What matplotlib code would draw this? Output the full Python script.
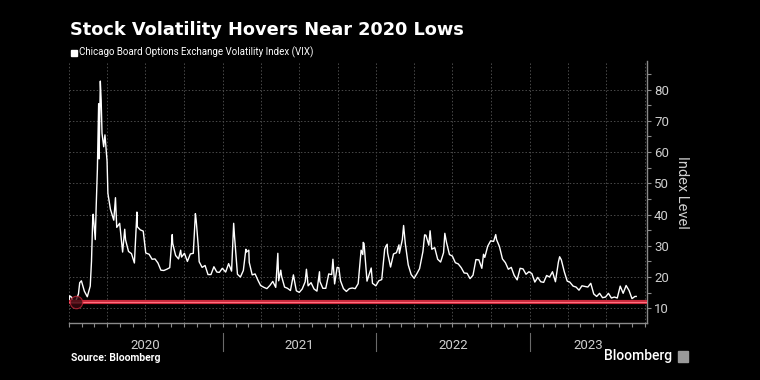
import matplotlib
matplotlib.use("Agg")
import matplotlib.pyplot as plt
import matplotlib.dates as mdates
import matplotlib.transforms as mtrans
import matplotlib.patches as mpatches
import pandas as pd

# ── Data: VIX, approx. weekly closes plus spike days ──────────────────────────
D2020 = ["01-02", "01-03", "01-08", "01-10", "01-17", "01-24", "01-27", "01-31",
         "02-07", "02-14", "02-21", "02-24", "02-27", "02-28", "03-04", "03-06",
         "03-09", "03-12", "03-13", "03-16", "03-18", "03-20", "03-24", "03-27",
         "04-01", "04-03", "04-09", "04-17", "04-21", "04-24", "05-01", "05-08",
         "05-13", "05-15", "05-22", "05-29", "06-05", "06-11", "06-12", "06-19",
         "06-26", "07-02", "07-10", "07-17", "07-24", "07-31", "08-07", "08-14",
         "08-21", "08-28", "09-03", "09-04", "09-11", "09-18", "09-23", "09-25",
         "10-02", "10-09", "10-16", "10-23", "10-28", "10-30", "11-04", "11-06",
         "11-13", "11-20", "11-27", "12-04", "12-11", "12-18", "12-24", "12-31"]
V2020 = [12.5, 14.0, 13.5, 12.6, 12.1, 14.6, 18.2, 18.8,
         15.5, 13.7, 17.1, 25.0, 39.2, 40.1, 32.0, 41.9,
         54.5, 75.5, 57.8, 82.7, 76.5, 66.0, 61.7, 65.5,
         57.1, 46.8, 41.7, 38.2, 45.4, 35.9, 37.2, 28.0,
         35.3, 31.9, 28.2, 27.5, 24.5, 40.8, 36.1, 35.1,
         34.7, 27.7, 27.3, 25.7, 25.8, 24.5, 22.2, 22.1,
         22.5, 23.0, 33.6, 30.8, 26.9, 25.8, 28.6, 26.4,
         27.6, 25.0, 27.4, 27.6, 40.3, 38.0, 29.6, 24.9,
         23.1, 23.7, 20.8, 20.8, 23.3, 21.6, 21.5, 22.8]

D2021 = ["01-08", "01-15", "01-22", "01-27", "01-29", "02-05", "02-12", "02-19",
         "02-25", "02-26", "03-04", "03-05", "03-12", "03-19", "03-26", "04-01",
         "04-09", "04-16", "04-23", "04-30", "05-07", "05-12", "05-14", "05-19",
         "05-21", "05-28", "06-04", "06-11", "06-18", "06-25", "07-02", "07-09",
         "07-16", "07-19", "07-23", "07-30", "08-06", "08-13", "08-19", "08-20",
         "08-27", "09-03", "09-10", "09-17", "09-20", "09-24", "09-30", "10-04",
         "10-08", "10-15", "10-22", "10-29", "11-05", "11-12", "11-19", "11-26",
         "11-30", "12-01", "12-03", "12-10", "12-17", "12-20", "12-23", "12-31"]
V2021 = [21.6, 24.3, 21.9, 37.2, 33.1, 20.9, 20.0, 22.1,
         28.9, 28.0, 28.6, 24.7, 20.7, 21.0, 18.9, 17.3,
         16.7, 16.3, 17.3, 18.6, 16.7, 27.6, 18.8, 22.2,
         20.2, 16.8, 16.4, 15.7, 20.7, 15.6, 15.1, 16.2,
         18.5, 22.5, 17.2, 18.2, 16.2, 15.5, 21.7, 18.6,
         16.4, 16.4, 21.0, 20.8, 25.7, 17.8, 23.1, 23.0,
         18.8, 16.3, 15.4, 16.3, 16.5, 16.3, 17.9, 28.6,
         27.2, 31.1, 30.7, 18.7, 21.6, 22.9, 18.0, 17.2]

D2022 = ["01-07", "01-14", "01-21", "01-24", "01-27", "01-28", "02-04", "02-11",
         "02-18", "02-24", "02-25", "03-04", "03-07", "03-11", "03-18", "03-25",
         "04-01", "04-08", "04-14", "04-22", "04-26", "04-29", "05-06", "05-09",
         "05-13", "05-20", "05-27", "06-03", "06-10", "06-13", "06-17", "06-24",
         "07-01", "07-08", "07-15", "07-22", "07-29", "08-05", "08-12", "08-19",
         "08-26", "09-02", "09-09", "09-13", "09-16", "09-23", "09-30", "10-07",
         "10-12", "10-14", "10-21", "10-28", "11-04", "11-11", "11-18", "11-25",
         "12-02", "12-09", "12-16", "12-23", "12-30"]
V2022 = [18.8, 19.2, 28.9, 29.9, 30.5, 27.7, 23.2, 27.4,
         27.8, 30.3, 27.6, 32.0, 36.5, 30.8, 23.9, 20.8,
         19.6, 21.2, 22.7, 28.2, 33.5, 33.4, 30.2, 34.8,
         28.9, 29.4, 25.7, 24.8, 27.8, 34.0, 31.1, 27.2,
         26.7, 24.6, 24.2, 23.0, 21.3, 21.2, 19.5, 20.6,
         25.6, 25.5, 22.8, 27.3, 26.3, 29.9, 31.6, 31.4,
         33.6, 32.0, 29.7, 25.8, 24.6, 22.5, 23.1, 20.5,
         19.1, 22.8, 22.6, 20.9, 21.7]

D2023 = ["01-06", "01-13", "01-20", "01-27", "02-03", "02-10", "02-17", "02-24",
         "03-03", "03-10", "03-13", "03-17", "03-24", "03-31", "04-06", "04-14",
         "04-21", "04-28", "05-05", "05-12", "05-19", "05-26", "06-02", "06-09",
         "06-16", "06-23", "06-30", "07-07", "07-14", "07-21", "07-28", "08-04",
         "08-11", "08-18", "08-25", "09-01", "09-08", "09-11"]
V2023 = [21.1, 18.4, 19.9, 18.5, 18.3, 20.5, 20.0, 21.7,
         18.5, 24.8, 26.5, 25.5, 21.7, 18.7, 18.4, 17.1,
         16.8, 15.8, 17.2, 17.0, 16.8, 18.0, 14.6, 13.8,
         14.8, 13.4, 13.6, 14.8, 13.3, 13.6, 13.3, 17.1,
         14.8, 17.3, 15.7, 13.1, 13.8, 13.8]

LOW_DATE = "2020-01-17"   # 2020 low marked with the red line
LOW_VALUE = 12.0

YEARS = [2020, 2021, 2022, 2023]
X_START, X_END = "2020-01-01", "2023-10-07"

dates = []
vix = []
for yr, dd, vv in zip(YEARS, [D2020, D2021, D2022, D2023], [V2020, V2021, V2022, V2023]):
    dates += [pd.Timestamp(f"{yr}-{d}") for d in dd]
    vix += vv

# ── Style ────────────────────────────────────────────────────────────────────
BG = "black"
FG = "white"
TICK_C = "#cfcfcf"
GRID_C = "#4a4a4a"
SPINE_C = "#8a8a8a"
RED = "#c8283a"
plt.rcParams["font.family"] = ["Roboto", "DejaVu Sans"]

fig = plt.figure(figsize=(7.6, 3.8), dpi=100, facecolor=BG)
ax = fig.add_axes([0.0905, 0.15, 0.761, 0.69], facecolor=BG)

ax.plot(dates, vix, color=FG, lw=1.0, zorder=3)
ax.axhline(LOW_VALUE, color=RED, lw=3.0, zorder=4)
ax.axhline(LOW_VALUE, color="#ff7080", lw=0.8, zorder=4)
ax.plot([pd.Timestamp(LOW_DATE)], [LOW_VALUE], marker="o", ms=9, mfc="#3a0a10",
        mec=RED, mew=0.8, alpha=0.8, zorder=5)

ax.set_xlim(pd.Timestamp(X_START), pd.Timestamp(X_END))
ax.set_ylim(5.3, 89.2)

# axes / ticks
for s in ["left", "top"]:
    ax.spines[s].set_visible(False)
for s in ["bottom", "right"]:
    ax.spines[s].set_color(SPINE_C)
    ax.spines[s].set_linewidth(1.0)

ax.yaxis.tick_right()
ax.set_yticks(range(10, 90, 10))
ax.set_yticks(range(15, 90, 10), minor=True)
ax.tick_params(axis="y", which="both", colors=SPINE_C, labelcolor=TICK_C,
               labelsize=9.5, length=3, width=0.8, pad=2)
ax.yaxis.set_label_position("right")
ax.set_ylabel("Index Level", color=TICK_C, fontsize=10.5, rotation=270,
              labelpad=14)

ax.xaxis.set_major_locator(mdates.MonthLocator(bymonth=[1, 4, 7, 10]))
ax.xaxis.set_minor_locator(mdates.MonthLocator())
ax.tick_params(axis="x", which="both", colors=SPINE_C, length=3, width=0.8,
               labelbottom=False)

ax.grid(True, which="major", color=GRID_C, lw=0.7, ls=(0, (1.5, 2)))

# year labels and separators below the axis
trans = mtrans.blended_transform_factory(ax.transData, ax.transAxes)
x0, x1 = pd.Timestamp(X_START), pd.Timestamp(X_END)
for yr in YEARS:
    a = max(pd.Timestamp(f"{yr}-01-01"), x0)
    b = min(pd.Timestamp(f"{yr + 1}-01-01"), x1)
    ax.text(a + (b - a) / 2, -0.085, str(yr), transform=trans, ha="center",
            va="center", color=TICK_C, fontsize=9.5)
    if yr > YEARS[0]:
        ax.plot([a, a], [-0.04, -0.105], transform=trans, color="#6a6a6a",
                lw=0.8, clip_on=False)

# titles and footer
fig.text(0.092, 0.922, "Stock Volatility Hovers Near 2020 Lows", color=FG,
         fontsize=12.8, fontweight="bold", va="center", family="DejaVu Sans")
fig.patches.append(mpatches.Rectangle((0.0935, 0.853), 0.0075, 0.015,
                                      transform=fig.transFigure, color=FG))
fig.text(0.1035, 0.862, "Chicago Board Options Exchange Volatility Index (VIX)",
         color=FG, fontsize=7, va="center")
fig.text(0.093, 0.058, "Source: Bloomberg", color=FG, fontsize=7.5,
         fontweight="bold", va="center")
fig.text(0.885, 0.062, "Bloomberg", color=FG, fontsize=10, fontweight="medium",
         va="center", ha="right")
fig.patches.append(mpatches.Rectangle((0.892, 0.048), 0.013, 0.028,
                                      transform=fig.transFigure, color="#9a9a9a"))

fig.savefig("out.png", dpi=100, facecolor=BG)
